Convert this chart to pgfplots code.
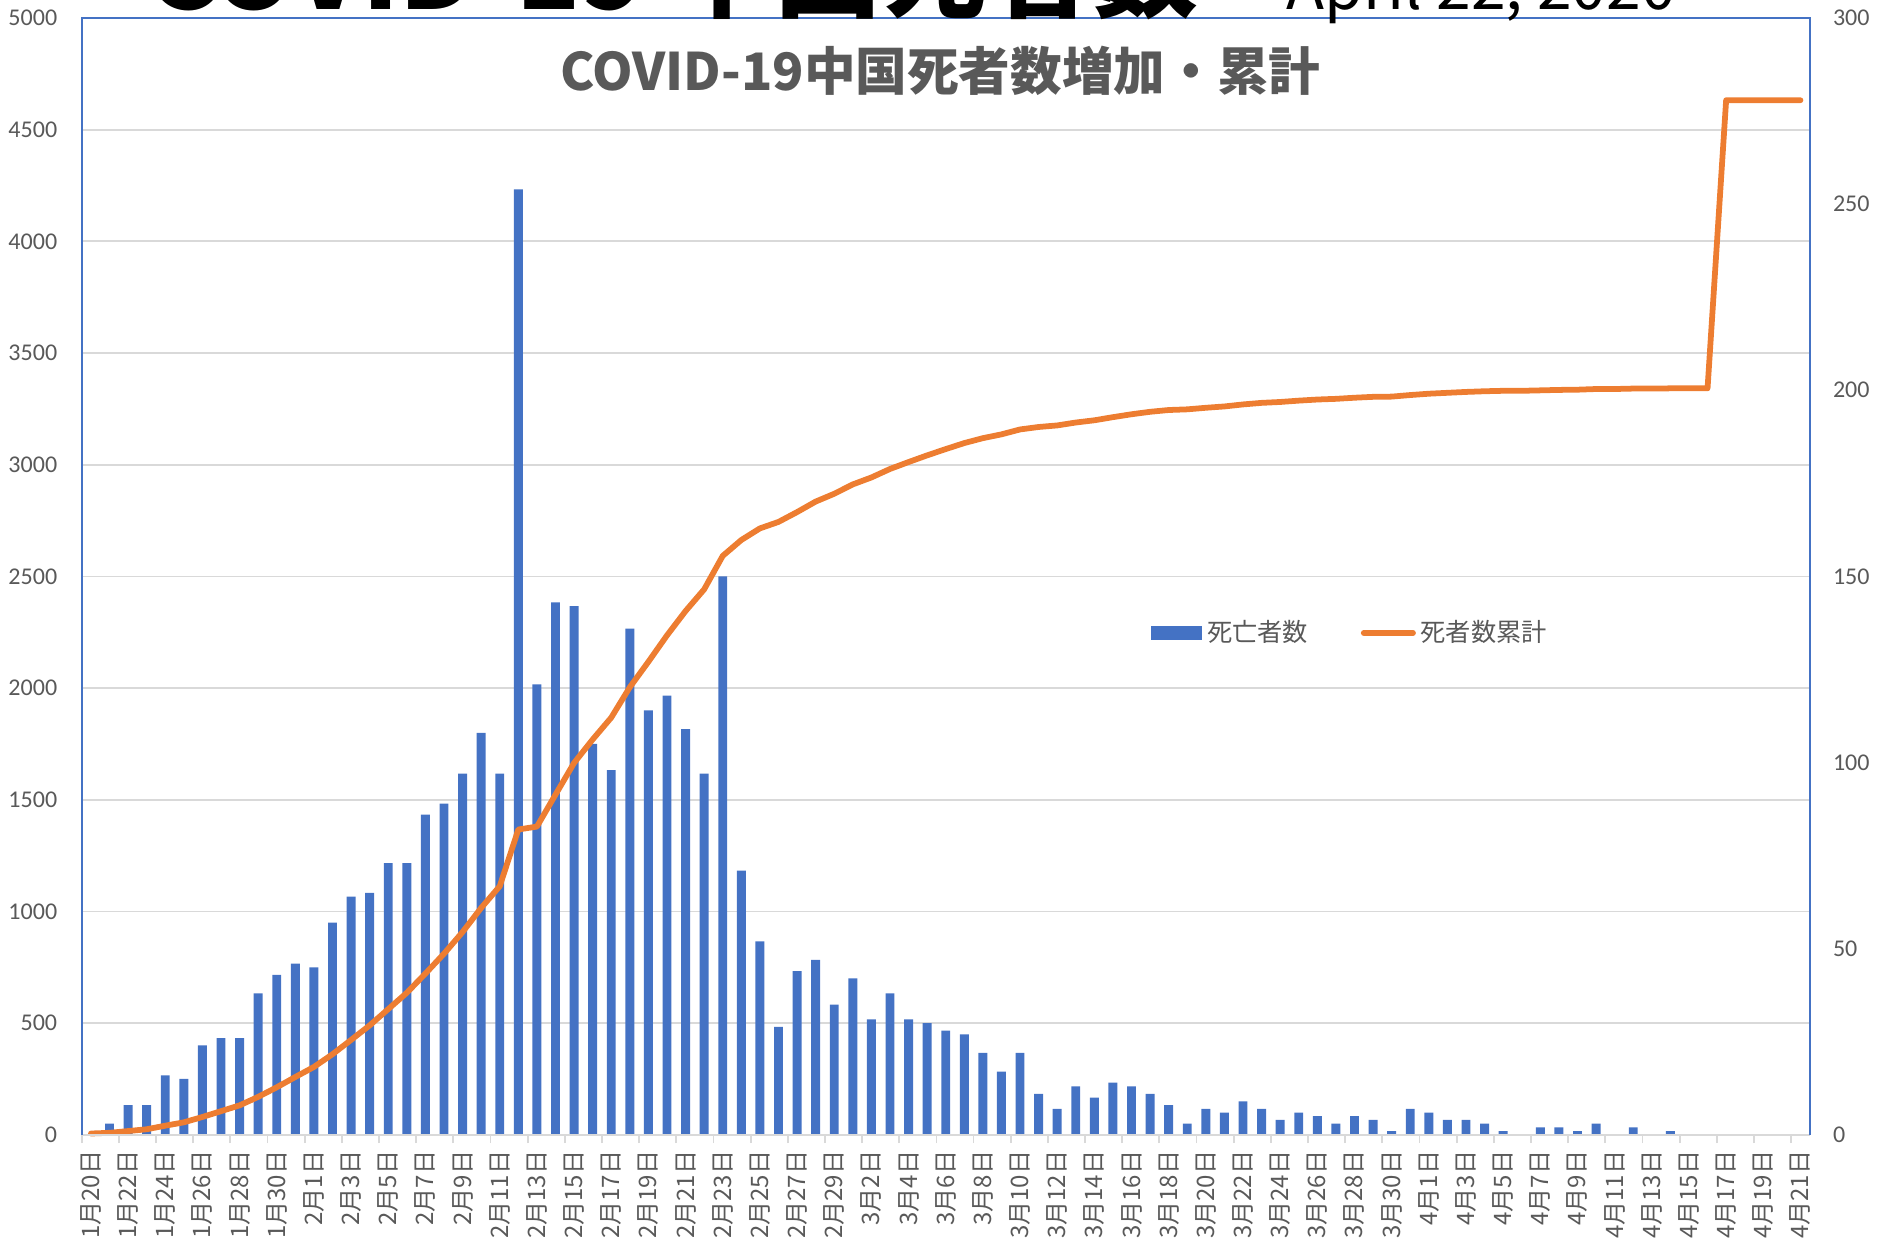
\documentclass[border=0pt]{standalone}
\usepackage{pgfplots}
\usepackage{pgfplotstable}
\pgfplotsset{compat=1.18}
\usepackage{fontspec}
\setmainfont{Carlito}
\newfontfamily\jp{Noto Sans CJK JP}
\definecolor{barblue}{HTML}{4472C4}
\definecolor{lineorange}{HTML}{ED7D31}
\definecolor{txtgray}{HTML}{595959}
\definecolor{gridgray}{HTML}{D9D9D9}

\pgfplotstableread{
x daily cum
0 0 6
1 3 9
2 8 17
3 8 25
4 16 41
5 15 56
6 24 80
7 26 106
8 26 132
9 38 170
10 43 213
11 46 259
12 45 304
13 57 361
14 64 425
15 65 490
16 73 563
17 73 636
18 86 722
19 89 811
20 97 908
21 108 1016
22 97 1113
23 254 1367
24 121 1380
25 143 1523
26 142 1665
27 105 1770
28 98 1868
29 136 2004
30 114 2118
31 118 2236
32 109 2345
33 97 2442
34 150 2592
35 71 2663
36 52 2715
37 29 2744
38 44 2788
39 47 2835
40 35 2870
41 42 2912
42 31 2943
43 38 2981
44 31 3012
45 30 3042
46 28 3070
47 27 3097
48 22 3119
49 17 3136
50 22 3158
51 11 3169
52 7 3176
53 13 3189
54 10 3199
55 14 3213
56 13 3226
57 11 3237
58 8 3245
59 3 3248
60 7 3255
61 6 3261
62 9 3270
63 7 3277
64 4 3281
65 6 3287
66 5 3292
67 3 3295
68 5 3300
69 4 3304
70 1 3305
71 7 3312
72 6 3318
73 4 3322
74 4 3326
75 3 3329
76 1 3331
77 0 3331
78 2 3333
79 2 3335
80 1 3336
81 3 3339
82 0 3339
83 2 3341
84 0 3341
85 1 3342
86 0 3342
87 0 3342
88 0 4632
89 0 4632
90 0 4632
91 0 4632
92 0 4632
}\data

\begin{document}
\begin{tikzpicture}
% bars on the right axis (0-300), with the gridlines
\begin{axis}[
  name=bars,
  at={(0,0)}, anchor=south west,
  scale only axis, width=719.5pt, height=465pt,
  xmin=-0.5, xmax=92.5, ymin=0, ymax=300,
  axis line style={draw=none},
  xtick=\empty,
  ytick={30,60,...,270}, yticklabels={},
  ymajorgrids, major grid style={gridgray, line width=0.75pt},
  major tick length=0pt,
  extra y ticks={0,50,...,300},
  extra y tick labels={0,50,100,150,200,250,300},
  extra y tick style={grid=none},
  yticklabel pos=right,
  yticklabel shift=9.5pt,
  y tick label style={font=\fontsize{10pt}{12pt}\selectfont, text=txtgray, inner sep=0pt, anchor=west},
  clip=false,
]
\addplot[ybar, bar width=0.48, fill=barblue, draw=none] table[x=x, y=daily]{\data};
\end{axis}
% cumulative line on the left axis (0-5000)
\begin{axis}[
  name=line,
  at={(0,0)}, anchor=south west,
  scale only axis, width=719.5pt, height=465pt,
  xmin=-0.5, xmax=92.5, ymin=0, ymax=5000,
  axis line style={draw=none},
  ytick={0,500,...,5000},
  yticklabels={0,500,1000,1500,2000,2500,3000,3500,4000,4500,5000},
  yticklabel pos=left,
  yticklabel shift=10pt,
  y tick label style={font=\fontsize{10pt}{12pt}\selectfont, text=txtgray, inner sep=0pt, anchor=east},
  xtick={0,2,...,92},
  xticklabels={1月20日,1月22日,1月24日,1月26日,1月28日,1月30日,
    2月1日,2月3日,2月5日,2月7日,2月9日,2月11日,2月13日,2月15日,2月17日,2月19日,2月21日,2月23日,2月25日,2月27日,2月29日,
    3月2日,3月4日,3月6日,3月8日,3月10日,3月12日,3月14日,3月16日,3月18日,3月20日,3月22日,3月24日,3月26日,3月28日,3月30日,
    4月1日,4月3日,4月5日,4月7日,4月9日,4月11日,4月13日,4月15日,4月17日,4月19日,4月21日},
  x tick label style={font=\jp\fontsize{10pt}{12pt}\selectfont, text=txtgray, rotate=90, anchor=east, inner sep=0pt},
  xticklabel shift=6.5pt,
  major tick length=0pt,
  xtick pos=bottom, ytick pos=left,
  extra x ticks={-0.5,1.5,...,91.5},
  extra x tick labels={},
  extra x tick style={major tick length=3.5pt, tick align=outside, tick style={gridgray, line width=0.75pt}},
  legend style={at={(0.6185,0.4495)}, anchor=west, draw=none, fill=none,
    font=\jp\fontsize{10.5pt}{12pt}\selectfont, text=txtgray,
    legend columns=2, inner sep=0pt,
    /tikz/every even column/.append style={column sep=20pt}},
  clip=false,
]
\addlegendimage{legend image code/.code={\fill[barblue] (0pt,-2.6pt) rectangle (21pt,2.6pt);}}
\addlegendentry{死亡者数}
\addplot[lineorange, line width=2.4pt, line join=round, line cap=round, mark=none,
  legend image code/.code={\draw[lineorange, line width=2.4pt, line cap=round] (0.5pt,0pt) -- (21pt,0pt);}]
  table[x=x, y=cum]{\data};
\addlegendentry{死者数累計}
\end{axis}
% frame
\draw[gridgray, line width=1pt] (0,0) -- (719.5pt,0);
\draw[barblue, line width=0.9pt] (0,0) -- (0,465pt) -- (719.5pt,465pt) -- (719.5pt,0);
% chart title
\node[font=\jp\bfseries\fontsize{21.5pt}{24pt}\selectfont, text=txtgray, inner sep=0pt] at (357.5pt,443pt) {COVID-19中国死者数増加・累計};
% cut-off heading above the chart
\node[font=\jp\bfseries\fontsize{44pt}{48pt}\selectfont, text=black, anchor=base west, inner sep=0pt] at (26.8pt,468.5pt) {COVID-19 中国死者数};
\node[font=\jp\fontsize{26pt}{30pt}\selectfont, text=black, anchor=base west, inner sep=0pt] at (501.5pt,468.5pt) {April 22, 2020};
\pgfresetboundingbox
\useasboundingbox (-34pt,-43.5pt) rectangle (750pt,472.5pt);
\end{tikzpicture}
\end{document}
